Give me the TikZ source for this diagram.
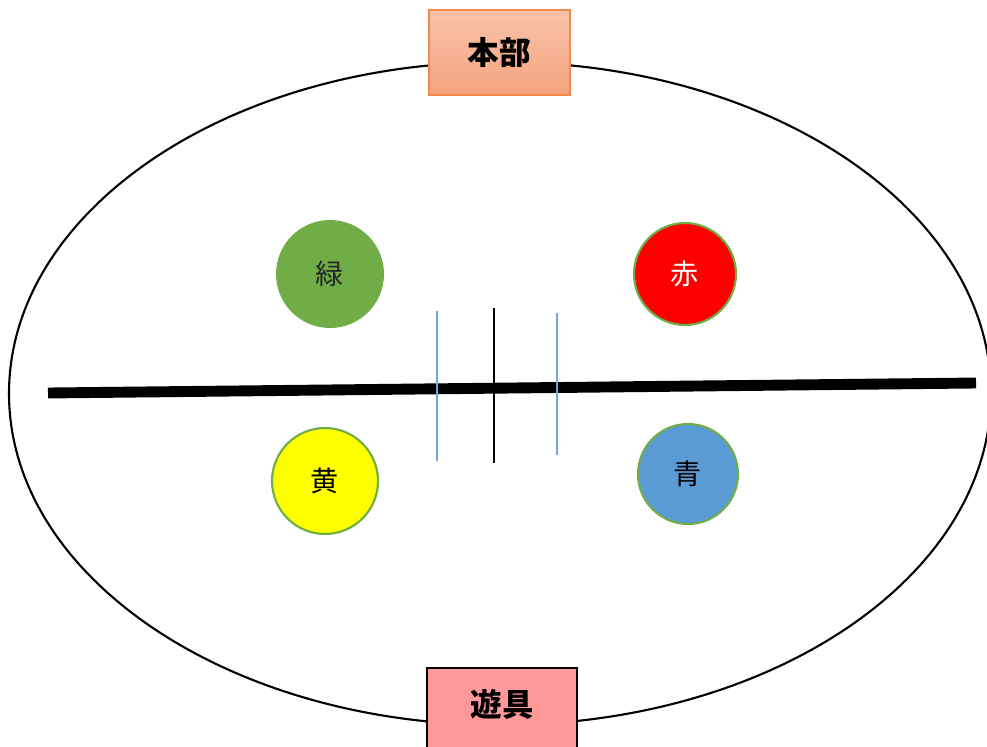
\documentclass[tikz,border=0pt]{standalone}
\usepackage{fontspec}
\newfontfamily\jp{Noto Sans CJK JP}
\usepackage{xcolor}
\usepackage{tikz}

\definecolor{grassgreen}{HTML}{70AD47}
\definecolor{skyblue}{HTML}{5B9BD5}
\definecolor{linkblue}{HTML}{6FA8DC}
\definecolor{tentorange}{HTML}{F28A4B}
\definecolor{tenttop}{HTML}{F8C2A9}
\definecolor{tentbottom}{HTML}{F4A47E}
\definecolor{playpink}{HTML}{FF9999}
\definecolor{teamyellow}{HTML}{FFFF00}

\tikzset{
  team/.style={circle, minimum size=#1, inner sep=0pt, font=\jp\fontsize{16}{16}\selectfont},
  tent/.style={minimum width=2.82cm, minimum height=1.7cm, inner sep=0pt, font=\jp\bfseries\fontsize{18}{18}\selectfont}
}

\begin{document}
\begin{tikzpicture}[x=0.02cm,y=-0.02cm]
  \useasboundingbox (0,0) rectangle (987,747);

  % track
  \draw[line width=1.2pt] (500,393.5) ellipse [x radius=491, y radius=331.5];

  % centre line and lanes
  \draw[line width=6.2pt] (48,393) -- (976,383);
  \draw[linkblue, line width=0.9pt] (437,311) -- (437,461);
  \draw[black, line width=0.7pt] (494,308) -- (494,463);
  \draw[linkblue, line width=0.9pt] (557,313) -- (557,455);

  % teams
  \node[team=2.16cm, fill=grassgreen, text=black!85] (green) at (330,274) {緑};
  \node[team=2.04cm, fill=red, draw=grassgreen, line width=1.2pt, text=white] (red) at (685,274) {赤};
  \node[team=2.12cm, fill=teamyellow, draw=grassgreen, line width=1.2pt] (yellow) at (325,481) {黄};
  \node[team=2.0cm, fill=skyblue, draw=grassgreen, line width=1.2pt] (blue) at (688,474) {青};

  % tents
  \node[tent, top color=tenttop, bottom color=tentbottom, draw=tentorange, line width=0.6pt] (hq) at (499.5,52.5) {本部};
  \node[tent, minimum width=3cm, minimum height=1.8cm, fill=playpink, draw=black, line width=0.6pt] (play) at (502,713) {};
  \node[tent, minimum width=0pt, minimum height=0pt] (playtext) at (502,704) {遊具};
\end{tikzpicture}
\end{document}
